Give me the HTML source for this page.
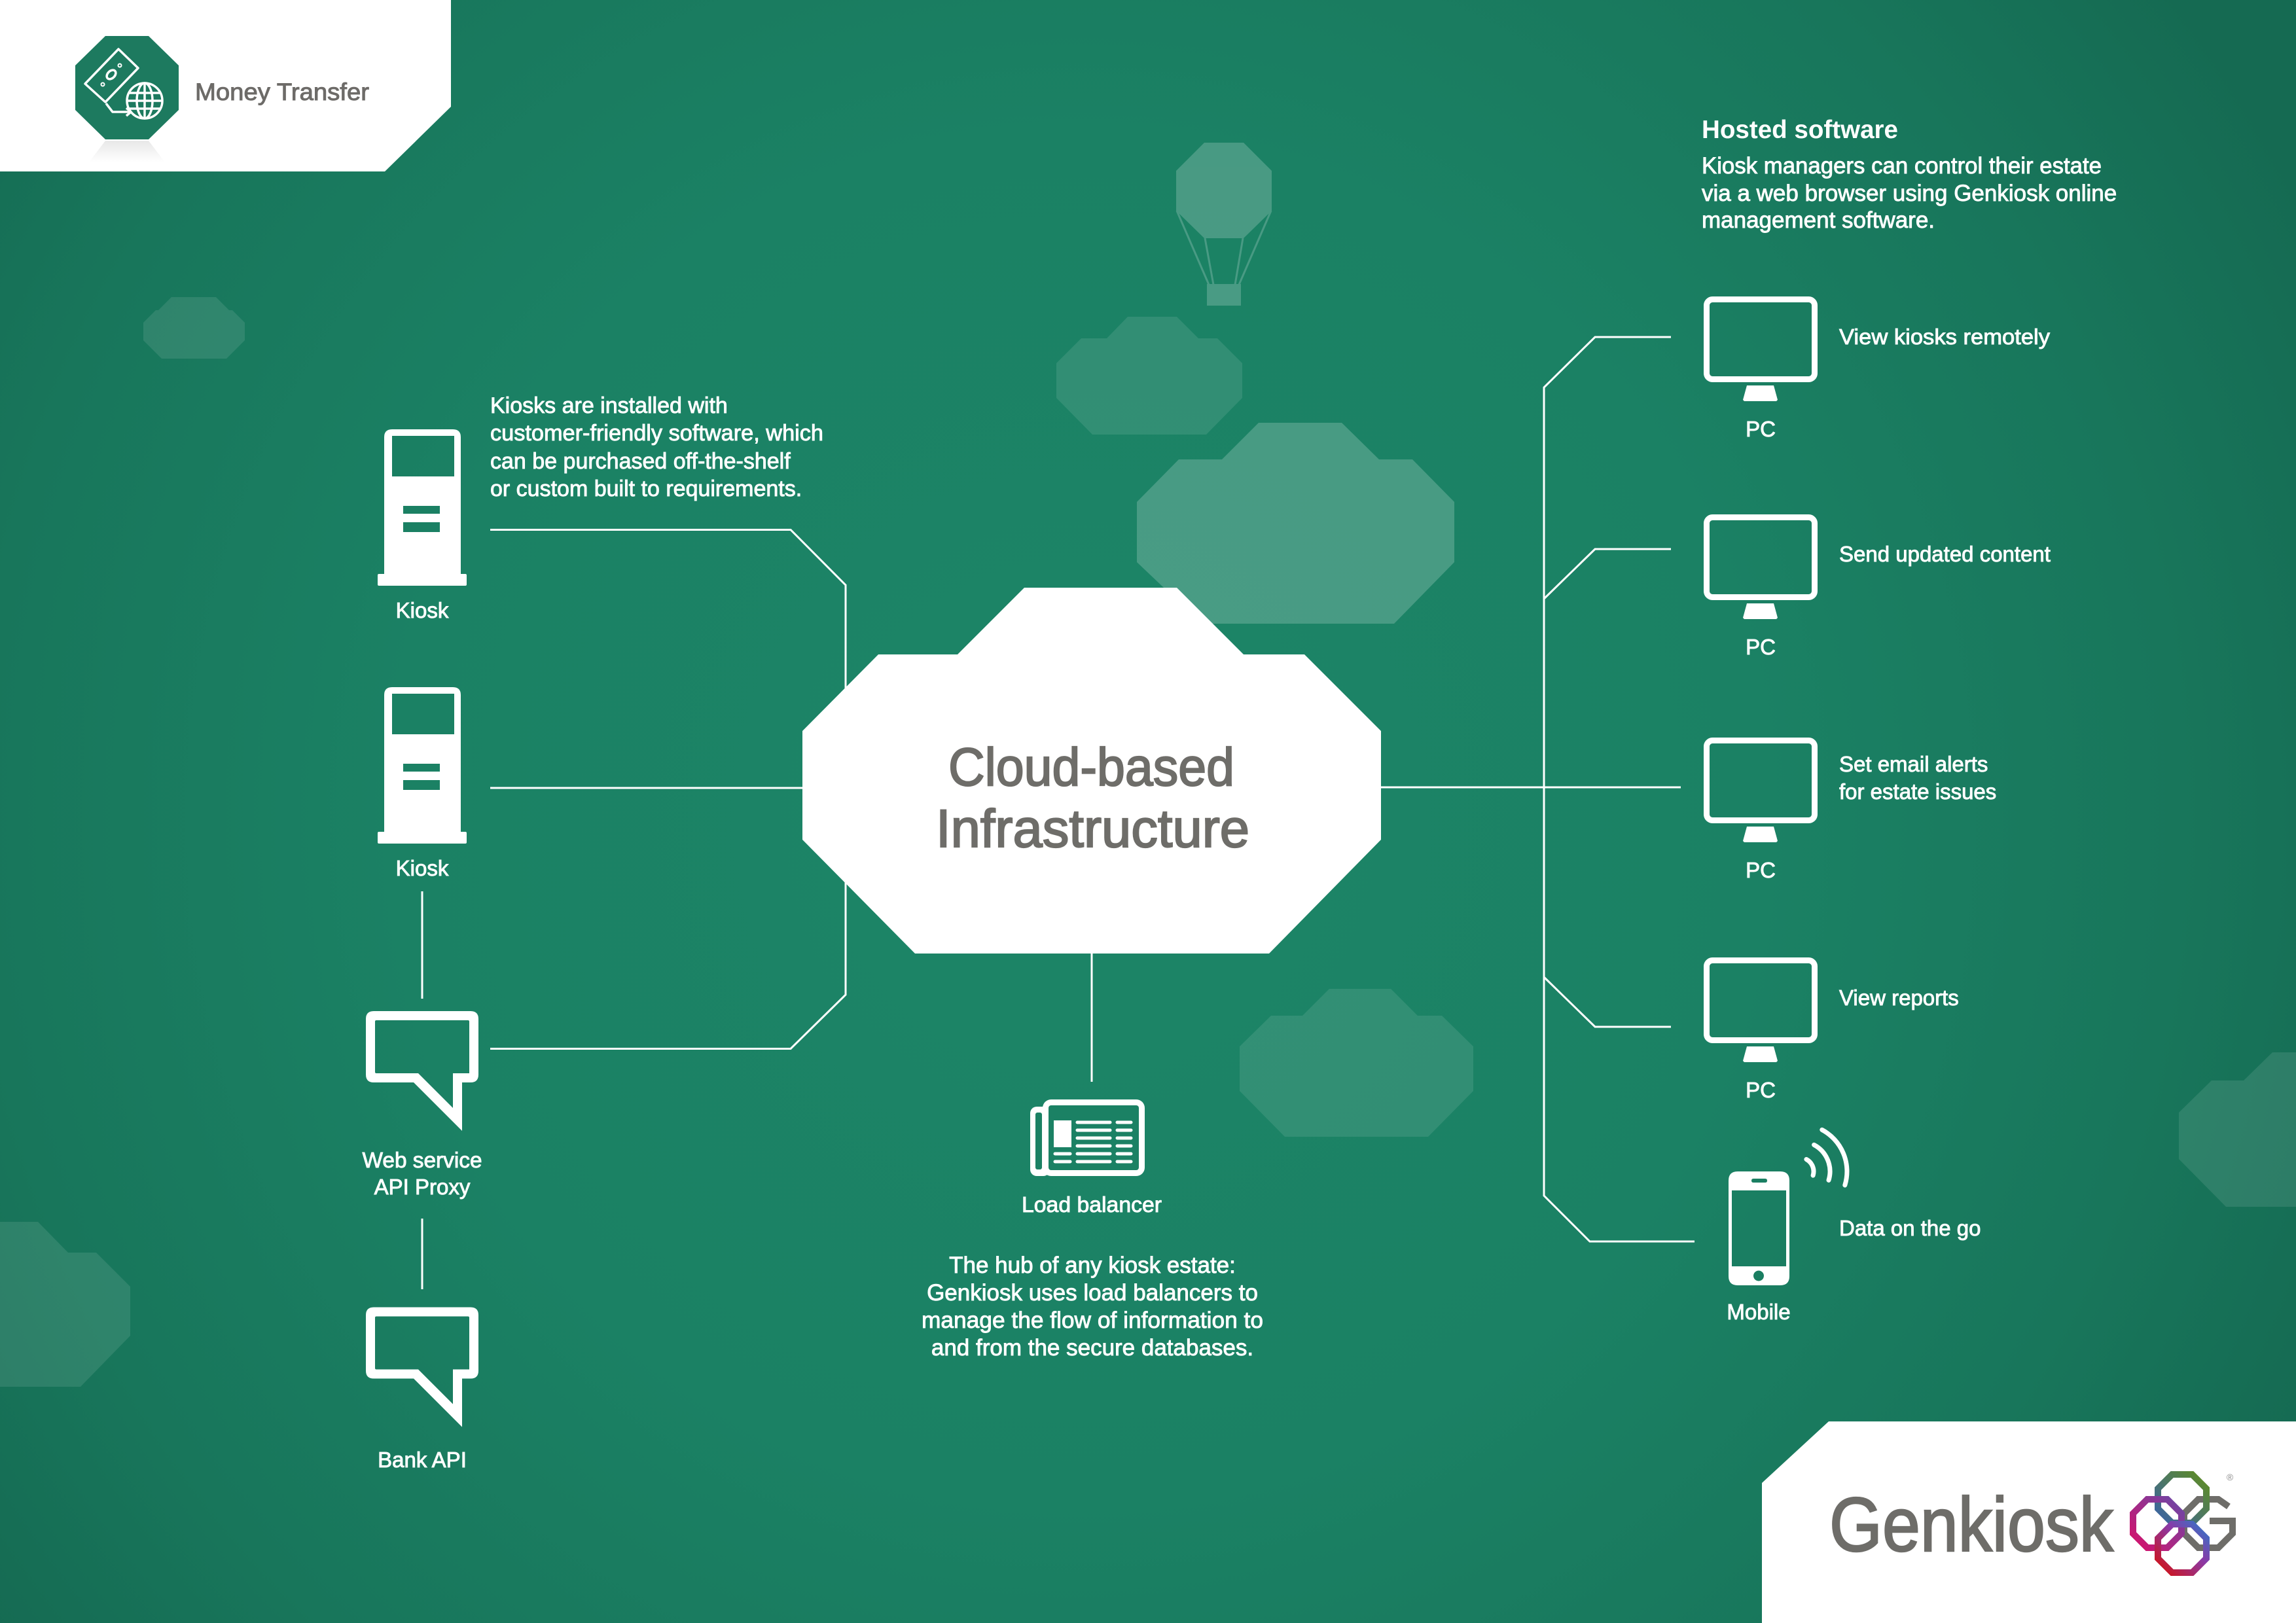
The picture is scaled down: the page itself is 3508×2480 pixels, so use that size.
<!DOCTYPE html>
<html>
<head>
<meta charset="utf-8">
<style>
  html,body{margin:0;padding:0;background:#1b8264;}
  svg{display:block;}
  text{font-family:"Liberation Sans", Arial, sans-serif;}
</style>
</head>
<body>
<svg width="3508" height="2480" viewBox="0 0 3508 2480" xmlns="http://www.w3.org/2000/svg">
  <defs>
    <radialGradient id="bg" gradientUnits="userSpaceOnUse" cx="1650" cy="1250" r="2100">
      <stop offset="0" stop-color="#1c8567"/>
      <stop offset="0.5" stop-color="#1b8164"/>
      <stop offset="0.8" stop-color="#18765b"/>
      <stop offset="1" stop-color="#156a52"/>
    </radialGradient>
    <linearGradient id="refl" x1="0" y1="0" x2="0" y2="1">
      <stop offset="0" stop-color="#d8d8d8"/>
      <stop offset="1" stop-color="#ffffff"/>
    </linearGradient>
    <linearGradient id="gTop" gradientUnits="userSpaceOnUse" x1="3297" y1="2327" x2="3371" y2="2253">
      <stop offset="0" stop-color="#3a62a8"/>
      <stop offset="1" stop-color="#5f8d22"/>
    </linearGradient>
    <linearGradient id="gLeft" gradientUnits="userSpaceOnUse" x1="3259" y1="2365" x2="3333" y2="2291">
      <stop offset="0" stop-color="#d8106a"/>
      <stop offset="1" stop-color="#6a48a8"/>
    </linearGradient>
    <linearGradient id="gBot" gradientUnits="userSpaceOnUse" x1="3297" y1="2403" x2="3371" y2="2329">
      <stop offset="0" stop-color="#d41010"/>
      <stop offset="0.6" stop-color="#8a3aa8"/>
      <stop offset="1" stop-color="#2f78c8"/>
    </linearGradient>
  </defs>

  <!-- background -->
  <rect x="0" y="0" width="3508" height="2480" fill="url(#bg)"/>

  <!-- decorative clouds (faint) -->
  <g fill="#ffffff" opacity="0.1">
    <polygon points="262,454 330,454 350,474 355,474 374,493 374,520 346,548 247,548 219,520 219,493 238,474 242,474"/>
    <polygon points="1723,484 1798,484 1831,517 1860,517 1898,555 1898,608 1843,664 1669,664 1614,608 1614,555 1652,517 1691,517"/>
    <polygon points="2031,1511 2125,1511 2166,1552 2203,1552 2251,1599 2251,1667 2182,1737 1963,1737 1894,1667 1894,1599 1942,1552 1990,1552"/>
    <polygon points="3472,1608 3508,1608 3508,1844 3401,1844 3329,1771 3329,1700 3379,1651 3428,1651"/>
    <polygon points="0,1867 58,1867 104,1914 147,1914 199,1966 199,2041 123,2119 0,2119"/>
  </g>
  <g fill="#ffffff" stroke="#ffffff" opacity="0.2">
    <polygon stroke="none" points="1923,646 2050,646 2107,702 2158,702 2222,767 2222,859 2130,953 1836,953 1737,859 1737,767 1801,702 1867,702"/>
    <!-- balloon -->
    <polygon stroke="none" points="1840,218 1900,218 1943,261 1943,322 1900,364 1840,364 1797,322 1797,261"/>
    <rect stroke="none" x="1844" y="434" width="52" height="33"/>
    <g stroke-width="3" fill="none">
      <line x1="1798" y1="322" x2="1847" y2="435"/>
      <line x1="1942" y1="322" x2="1893" y2="435"/>
      <line x1="1841" y1="364" x2="1854" y2="435"/>
      <line x1="1899" y1="364" x2="1887" y2="435"/>
    </g>
  </g>

  <!-- header panel -->
  <polygon points="0,0 689,0 689,163 588,262 0,262" fill="#ffffff"/>
  <polygon points="161,215 227,215 252,248 136,248" fill="url(#refl)" opacity="0.6"/>
  <polygon points="161,55 227,55 273,100 273,168 227,213 161,213 115,168 115,100" fill="#1d7a5f"/>
  <g fill="none" stroke="#ffffff" stroke-width="3.5" stroke-linejoin="round">
    <polygon points="181,75 211,104 161,156 130,128"/>
    <ellipse cx="170" cy="114" rx="5.5" ry="8" transform="rotate(45 170 114)"/>
    <circle cx="221" cy="154" r="27"/>
    <ellipse cx="221" cy="154" rx="12" ry="27"/>
    <line x1="221" y1="127" x2="221" y2="181"/>
    <line x1="196" y1="142" x2="246" y2="142"/>
    <line x1="194" y1="154" x2="248" y2="154"/>
    <line x1="196" y1="166" x2="246" y2="166"/>
    <polyline points="162,158 172,171 198,171"/>
    <polyline points="193,165 200,171 193,177"/>
  </g>
  <circle cx="183" cy="100" r="2.5" fill="none" stroke="#fff" stroke-width="2"/>
  <circle cx="157" cy="129" r="2.5" fill="none" stroke="#fff" stroke-width="2"/>
  <text x="298" y="153" font-size="37" fill="#6d6b68" stroke="#6d6b68" stroke-width="1" textLength="266" lengthAdjust="spacingAndGlyphs">Money Transfer</text>

  <!-- connectors -->
  <g fill="none" stroke="#ffffff" stroke-width="3">
    <!-- left side -->
    <polyline points="749,809.5 1208,809.5 1292,894 1292,1520 1208,1602.5 749,1602.5"/>
    <line x1="749" y1="1204" x2="1230" y2="1204"/>
    <line x1="645" y1="1362" x2="645" y2="1526"/>
    <line x1="645" y1="1862" x2="645" y2="1970"/>
    <!-- bottom -->
    <line x1="1668" y1="1450" x2="1668" y2="1653"/>
    <!-- right side -->
    <polyline points="2553,515 2437,515 2359,592 2359,1827 2429,1897 2589,1897"/>
    <polyline points="2553,839 2437,839 2359,915"/>
    <polyline points="2359,1493 2437,1569 2553,1569"/>
    <line x1="2105" y1="1203" x2="2568" y2="1203"/>
  </g>

  <!-- central cloud -->
  <polygon points="1565,898 1798,898 1900,1000 1993,1000 2110,1117 2110,1283 1939,1457 1398,1457 1226,1283 1226,1117 1342,1000 1463,1000" fill="#ffffff"/>
  <g fill="#6e6d69" stroke="#6e6d69" stroke-width="2.2">
    <text x="1449" y="1200" font-size="82" textLength="437" lengthAdjust="spacingAndGlyphs">Cloud-based</text>
    <text x="1430" y="1294" font-size="82" textLength="479" lengthAdjust="spacingAndGlyphs">Infrastructure</text>
  </g>

  <!-- kiosks -->
  <g fill="#ffffff" fill-rule="evenodd">
    <path d="M587,668 Q587,656 599,656 H692 Q704,656 704,668 V877 H711 Q713,877 713,879 V893 Q713,895 711,895 H579 Q577,895 577,893 V879 Q577,877 579,877 H587 Z
             M599,666 H694 V728 H599 Z M616,773 H672 V785 H616 Z M616,798 H672 V813 H616 Z"/>
    <path transform="translate(0,394)" d="M587,668 Q587,656 599,656 H692 Q704,656 704,668 V877 H711 Q713,877 713,879 V893 Q713,895 711,895 H579 Q577,895 577,893 V879 Q577,877 579,877 H587 Z
             M599,666 H694 V728 H599 Z M616,773 H672 V785 H616 Z M616,798 H672 V813 H616 Z"/>
    <!-- speech bubbles -->
    <path d="M571,1545 H719 Q731,1545 731,1557 V1642 Q731,1654 719,1654 H706 V1728 L632,1654 H571 Q559,1654 559,1642 V1557 Q559,1545 571,1545 Z
             M575,1559 H715 Q717,1559 717,1561 V1640 H692 V1693 L639,1640 H575 Q573,1640 573,1638 V1561 Q573,1559 575,1559 Z"/>
    <path transform="translate(0,452.5)" d="M571,1545 H719 Q731,1545 731,1557 V1642 Q731,1654 719,1654 H706 V1728 L632,1654 H571 Q559,1654 559,1642 V1557 Q559,1545 571,1545 Z
             M575,1559 H715 Q717,1559 717,1561 V1640 H692 V1693 L639,1640 H575 Q573,1640 573,1638 V1561 Q573,1559 575,1559 Z"/>
  </g>

  <!-- all white text gets slight faux-medium stroke -->
  <g stroke="#ffffff" stroke-width="0.9">
  <!-- left labels -->
  <g fill="#ffffff" font-size="33" text-anchor="middle">
    <text x="645" y="944">Kiosk</text>
    <text x="645" y="1338">Kiosk</text>
    <text x="645" y="1784" textLength="183" lengthAdjust="spacingAndGlyphs">Web service</text>
    <text x="645" y="1825">API Proxy</text>
    <text x="645" y="2242">Bank API</text>
  </g>
  <g fill="#ffffff" font-size="34">
    <text x="749" y="631">Kiosks are installed with</text>
    <text x="749" y="673" textLength="509" lengthAdjust="spacingAndGlyphs">customer-friendly software, which</text>
    <text x="749" y="716">can be purchased off-the-shelf</text>
    <text x="749" y="758">or custom built to requirements.</text>
  </g>

  <text x="1668" y="1852" font-size="33" fill="#ffffff" text-anchor="middle" textLength="214" lengthAdjust="spacingAndGlyphs">Load balancer</text>
  <g fill="#ffffff" font-size="35" text-anchor="middle">
    <text x="1669" y="1945">The hub of any kiosk estate:</text>
    <text x="1669" y="1987">Genkiosk uses load balancers to</text>
    <text x="1669" y="2029" textLength="522" lengthAdjust="spacingAndGlyphs">manage the flow of information to</text>
    <text x="1669" y="2071">and from the secure databases.</text>
  </g>

  <g fill="#ffffff" font-size="35">
    <text x="2600" y="265" textLength="611" lengthAdjust="spacingAndGlyphs">Kiosk managers can control their estate</text>
    <text x="2600" y="307">via a web browser using Genkiosk online</text>
    <text x="2600" y="348">management software.</text>
  </g>

  <g fill="#ffffff" font-size="33" text-anchor="middle">
    <text x="2690" y="667">PC</text>
    <text x="2690" y="1000">PC</text>
    <text x="2690" y="1341">PC</text>
    <text x="2690" y="1677">PC</text>
    <text x="2687" y="2016">Mobile</text>
  </g>
  <g fill="#ffffff" font-size="33">
    <text x="2810" y="526" textLength="322" lengthAdjust="spacingAndGlyphs">View kiosks remotely</text>
    <text x="2810" y="858">Send updated content</text>
    <text x="2810" y="1179">Set email alerts</text>
    <text x="2810" y="1221">for estate issues</text>
    <text x="2810" y="1536">View reports</text>
    <text x="2810" y="1888">Data on the go</text>
  </g>
  </g>

  <!-- load balancer icon -->
  <rect x="1574" y="1691" width="30" height="106" rx="10" fill="#ffffff"/>
  <rect x="1582" y="1700" width="10" height="87" rx="3" fill="#1b8164"/>
  <rect x="1593" y="1680" width="156" height="117" rx="13" fill="#ffffff"/>
  <rect x="1602" y="1689" width="138" height="99" rx="4" fill="#1b8164"/>
  <rect x="1610" y="1712" width="27" height="41" fill="#ffffff"/>
  <g stroke="#ffffff" stroke-width="5" stroke-linecap="round">
    <line x1="1646" y1="1715" x2="1696" y2="1715"/><line x1="1707" y1="1715" x2="1728" y2="1715"/>
    <line x1="1646" y1="1727" x2="1696" y2="1727"/><line x1="1707" y1="1727" x2="1728" y2="1727"/>
    <line x1="1646" y1="1739" x2="1696" y2="1739"/><line x1="1707" y1="1739" x2="1728" y2="1739"/>
    <line x1="1646" y1="1751" x2="1696" y2="1751"/><line x1="1707" y1="1751" x2="1728" y2="1751"/>
    <line x1="1612" y1="1763" x2="1635" y2="1763"/><line x1="1646" y1="1763" x2="1696" y2="1763"/><line x1="1707" y1="1763" x2="1728" y2="1763"/>
    <line x1="1612" y1="1775" x2="1635" y2="1775"/><line x1="1646" y1="1775" x2="1696" y2="1775"/><line x1="1707" y1="1775" x2="1728" y2="1775"/>
  </g>

  <!-- hosted software title -->
  <text x="2600" y="211" font-size="39" font-weight="bold" fill="#ffffff" textLength="300" lengthAdjust="spacingAndGlyphs">Hosted software</text>

  <!-- monitors -->
  <g id="mon">
    <rect x="2607.5" y="457.5" width="165" height="122" rx="9" fill="none" stroke="#ffffff" stroke-width="9"/>
    <polygon points="2669,589 2710,589 2716,611 2714,613 2665,613 2663,611" fill="#ffffff"/>
  </g>
  <use href="#mon" transform="translate(0,333)"/>
  <use href="#mon" transform="translate(0,674)"/>
  <use href="#mon" transform="translate(0,1010)"/>

  <!-- mobile -->
  <path fill="#ffffff" fill-rule="evenodd" d="M2655,1790 H2720 Q2734,1790 2734,1804 V1950 Q2734,1964 2720,1964 H2655 Q2641,1964 2641,1950 V1804 Q2641,1790 2655,1790 Z
     M2646,1819 H2729 V1935 H2646 Z
     M2679,1801 H2697 Q2700,1801 2700,1804 Q2700,1807 2697,1807 H2679 Q2676,1807 2676,1804 Q2676,1801 2679,1801 Z
     M2687,1941.5 A8,8 0 1 0 2687.01,1941.5 Z"/>
  <g fill="none" stroke="#ffffff" stroke-width="7" stroke-linecap="round">
    <path d="M2759.9,1771.5 A21,21 0 0 1 2770.1,1796.1"/>
    <path d="M2771.6,1749.4 A46,46 0 0 1 2794,1803.4"/>
    <path d="M2783.8,1726.4 A72,72 0 0 1 2818.8,1811"/>
  </g>

  <!-- bottom-right logo panel -->
  <polygon points="2794,2172 3508,2172 3508,2480 2692,2480 2692,2266" fill="#ffffff"/>
  <text x="2795" y="2370" font-size="117" fill="#6e6d69" stroke="#6e6d69" stroke-width="2.5" textLength="434" lengthAdjust="spacingAndGlyphs">Genkiosk</text>
  <g fill="none" stroke-width="10" stroke-linejoin="miter">
    <path stroke="#6e6d69" d="M3405,2302 L3389.3,2291 H3358.7 L3337,2312.7 V2343.3 L3358.7,2365 H3389.3 L3411,2343.3 V2324 H3376"/>
    <polygon stroke="url(#gTop)" points="3318.7,2253 3349.3,2253 3371,2274.7 3371,2305.3 3349.3,2327 3318.7,2327 3297,2305.3 3297,2274.7"/>
    <polygon stroke="url(#gLeft)" points="3280.7,2291 3311.3,2291 3333,2312.7 3333,2343.3 3311.3,2365 3280.7,2365 3259,2343.3 3259,2312.7"/>
    <polygon stroke="url(#gBot)" points="3318.7,2329 3349.3,2329 3371,2350.7 3371,2381.3 3349.3,2403 3318.7,2403 3297,2381.3 3297,2350.7"/>
  </g>
  <text x="3407" y="2262" font-size="14" fill="#8a8a8a" text-anchor="middle">®</text>
</svg>
</body>
</html>
